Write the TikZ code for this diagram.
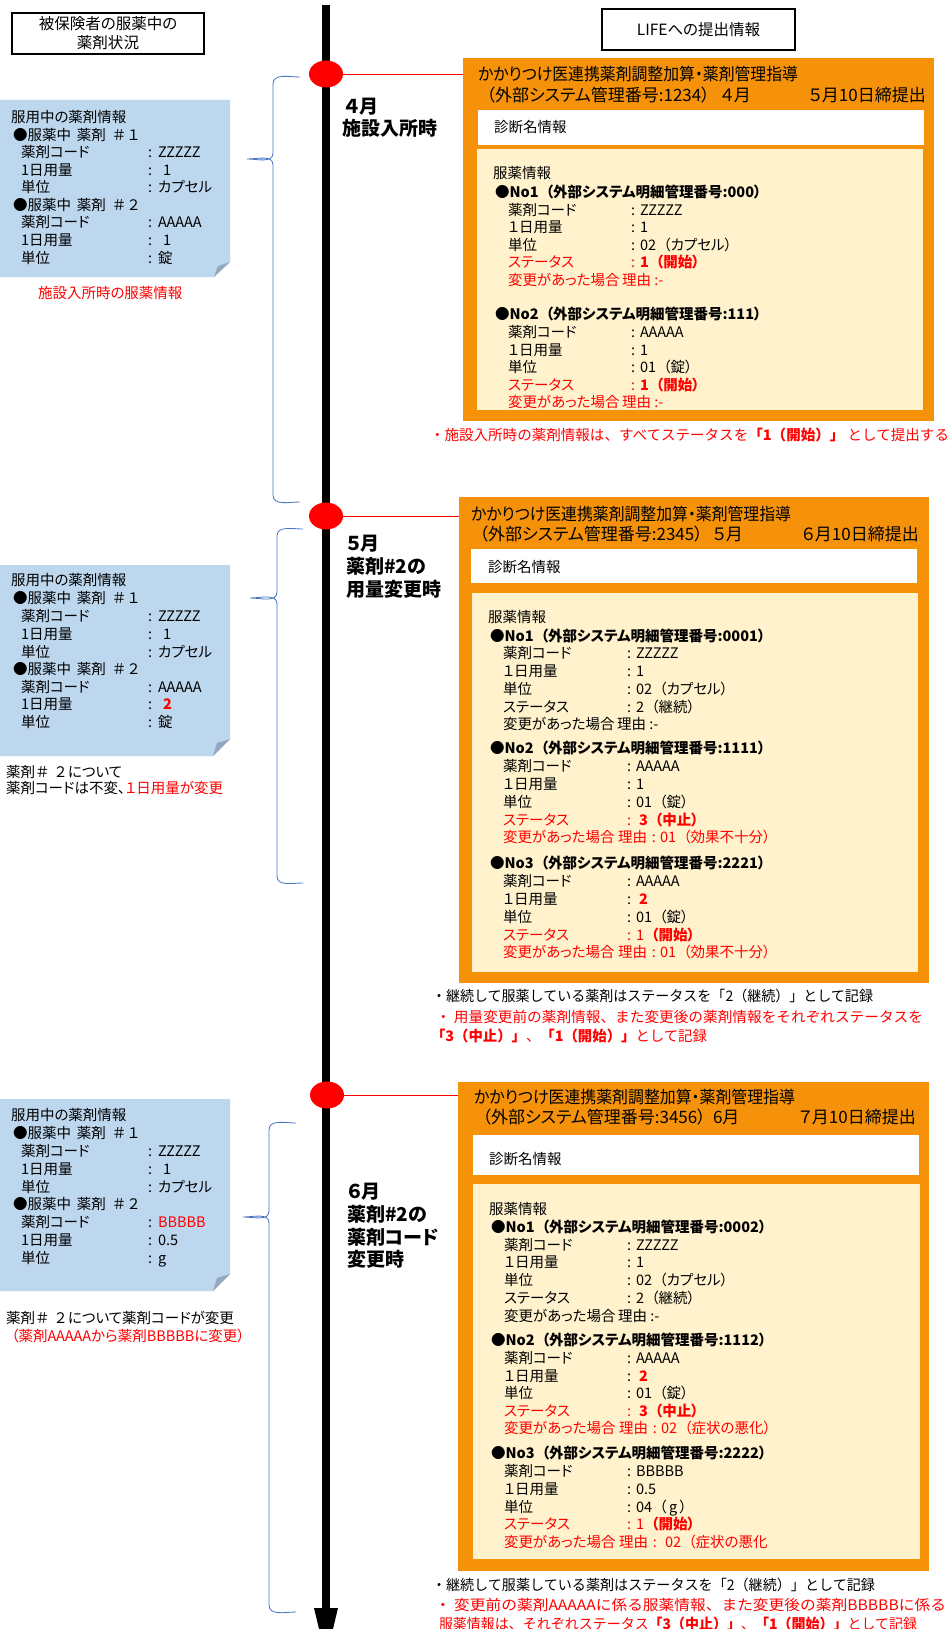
\documentclass[tikz,border=0pt]{standalone}
\usepackage{fontspec}
\setmainfont{Noto Sans CJK JP}[RawFeature={+palt}]
\newfontfamily\fwf{Noto Sans CJK JP}
\usetikzlibrary{shapes.geometric}
\definecolor{orng}{RGB}{245,146,10}
\definecolor{crm}{RGB}{255,242,204}
\definecolor{lblue}{RGB}{189,215,238}
\definecolor{foldc}{RGB}{150,168,192}
\definecolor{brc}{RGB}{68,114,196}
\newcommand\LP{\makebox[1em][r]{（}}
\newcommand\RP{\makebox[1em][l]{）}}
\newcommand\LB{\makebox[1em][r]{「}}
\newcommand\RB{\makebox[1em][l]{」}}
\newcommand\fitw[2]{\resizebox{#1pt}{\height}{#2}}
\tikzset{
 tx/.style={inner sep=0pt, outer sep=0pt, anchor=west},
 tbody/.style={tx, font=\fontsize{14.5}{17}\selectfont, text height=12pt, text depth=1pt},
 tbold/.style={tbody, font=\fontsize{14.5}{17}\selectfont\bfseries},
 tnote/.style={tbody, font=\fwf\fontsize{14.5}{17}\selectfont},
 thead/.style={tx, font=\fontsize{17}{20}\selectfont, text height=14pt, text depth=1.1pt},
 tlab/.style={tx, font=\fontsize{19}{22}\selectfont\bfseries, text height=15.8pt, text depth=1.4pt},
 ttl/.style={draw, line width=1.3pt, inner sep=0pt, outer sep=0pt, align=center, font=\fontsize{15.5}{19}\selectfont},
 bx/.style={inner sep=0pt, outer sep=0pt, anchor=north west},
 obx/.style={bx, fill=orng},
 wbx/.style={bx, fill=white},
 cbx/.style={bx, fill=crm},
 rtxt/.style={text=red},
 rdot/.style={ellipse, fill=red, minimum width=34pt, minimum height=27pt, inner sep=0pt, outer sep=0pt},
 brline/.style={draw=brc, line width=0.8pt},
 conn/.style={draw=red, line width=0.8pt},
}
% name, style, xlabel, xcolon, xvalue, y, label, value
\newcommand\kv[8]{%
 \node[tbody,#2] (#1l) at (#3,#6) {#7};
 \node[tbody,#2] (#1c) at (#4,#6) {:};
 \node[tbody,#2] (#1v) at (#5,#6) {#8};}
% name, style, x, xr, y, text after
\newcommand\reason[6]{%
 \node[tbody,#2] (#1l) at (#3,#5) {変更があった場合};
 \node[tbody,#2] (#1r) at (#4,#5) {#6};}
\newcommand\bul[1]{●服薬中\hspace{6pt}薬剤\hspace{6pt}{\fwf ＃#1}}
\begin{document}
\begin{tikzpicture}[x=1pt,y=-1pt]
\useasboundingbox (0,0) rectangle (952,1629);
\clip (0,0) rectangle (952,1629);
\fill[white] (0,0) rectangle (952,1629);

% ---------- titles
\node[ttl, minimum width=192pt, minimum height=41pt] (ttlL) at (108,33.5) {被保険者の服薬中の\\薬剤状況};
\node[ttl, minimum width=193pt, minimum height=41pt] (ttlR) at (698.5,29.5) {LIFEへの提出情報};

% ---------- timeline
\coordinate (tltop) at (326,5);
\coordinate (tlbot) at (326,1608);
\draw[line width=8pt] (tltop) -- (tlbot);
\fill (314,1608) -- (338,1608) -- (326,1658) -- cycle;

% ---------- blue notes
\fill[lblue] (0,100) -- (230,100) -- (230,262) -- (214,277) -- (0,277) -- cycle;
\fill[foldc] (214,277) -- (230,262) -- (218,266) -- cycle;
\fill[lblue] (0,565) -- (230,565) -- (230,739) -- (213,756) -- (0,756) -- cycle;
\fill[foldc] (213,756) -- (230,739) -- (217,743) -- cycle;
\fill[lblue] (0,1099) -- (230,1099) -- (230,1274) -- (213,1291) -- (0,1291) -- cycle;
\fill[foldc] (213,1291) -- (230,1274) -- (217,1278) -- cycle;

% ---------- braces
\draw[brline] (300,77) to[out=180,in=90] (273,84) -- (273,153) to[out=-90,in=0] (247,159) to[out=0,in=90] (273,165) -- (273,495) to[out=-90,in=180] (300,502);
\draw[brline] (303,529) to[out=180,in=90] (277,536) -- (277,592) to[out=-90,in=0] (250,598) to[out=0,in=90] (277,604) -- (277,876) to[out=-90,in=180] (303,883);
\draw[brline] (296,1123) to[out=180,in=90] (269,1130) -- (269,1211) to[out=-90,in=0] (243,1217) to[out=0,in=90] (269,1223) -- (269,1605) to[out=-90,in=180] (296,1612);

% =================== SECTION 1
\node[obx, minimum width=471pt, minimum height=363pt] (ob1) at (463,58) {};
\node[wbx, minimum width=446pt, minimum height=35pt] (wb1) at (478,110) {};
\node[cbx, minimum width=446pt, minimum height=261pt] (cb1) at (477,149) {};
\node[rdot] (d1) at (326,74) {};
\draw[conn] (d1.east) -- (d1.east -| ob1.west);

\node[tlab] (m1a) at (345,106) {４月};
\node[tlab] (m1b) at (342,128) {施設入所時};

\node[thead] (h1a) at (478,74) {\fitw{320}{かかりつけ医連携薬剤調整加算・薬剤管理指導}};
\node[thead] (h1b) at (478,95) {\LP 外部システム管理番号:1234\RP};
\node[thead] (h1c) at (721,95) {４月};
\node[thead] (h1d) at (809,95) {５月10日締提出};
\node[tbody] (w1) at (494,127) {診断名情報};
\node[tbody] (c1t) at (493,173) {服薬情報};
\node[tbold] (c1n1) at (495,192) {●No1\LP 外部システム明細管理番号:000\RP};
\kv{c1a}{}{508}{631}{640}{210}{薬剤コード}{ZZZZZ}
\kv{c1b}{}{508}{631}{640}{227.5}{１日用量}{1}
\kv{c1c}{}{508}{631}{640}{245}{単位}{02\LP カプセル\RP}
\kv{c1d}{rtxt}{508}{631}{640}{262.5}{ステータス}{\bfseries 1\LP 開始\RP}
\reason{c1e}{rtxt}{508}{622}{280}{理由 :-}
\node[tbold] (c1n2) at (495,314) {●No2\LP 外部システム明細管理番号:111\RP};
\kv{c1f}{}{508}{631}{640}{332}{薬剤コード}{AAAAA}
\kv{c1g}{}{508}{631}{640}{349.5}{１日用量}{1}
\kv{c1h}{}{508}{631}{640}{367}{単位}{01\LP 錠\RP}
\kv{c1i}{rtxt}{508}{631}{640}{384.5}{ステータス}{\bfseries 1\LP 開始\RP}
\reason{c1j}{rtxt}{508}{622}{402}{理由 :-}
\node[tnote,rtxt] (r1) at (430,435) {\fitw{519}{・施設入所時の薬剤情報は、すべてステータスを{\bfseries「1（開始）」}\ として提出する}};

\node[tbody] (n1t) at (11,117.5) {服用中の薬剤情報};
\node[tbody] (n1h1) at (13,135) {\bul{１}};
\kv{n1a}{}{21}{148}{158}{152.5}{薬剤コード}{ZZZZZ}
\kv{n1b}{}{21}{148}{163}{170}{1日用量}{1}
\kv{n1c}{}{21}{148}{158}{187.5}{単位}{カプセル}
\node[tbody] (n1h2) at (13,205) {\bul{２}};
\kv{n1d}{}{21}{148}{158}{222.5}{薬剤コード}{AAAAA}
\kv{n1e}{}{21}{148}{163}{240}{1日用量}{1}
\kv{n1f}{}{21}{148}{158}{257.5}{単位}{錠}
\node[tbody,rtxt] (n1cap) at (38,293) {施設入所時の服薬情報};

% =================== SECTION 2
\node[obx, minimum width=470pt, minimum height=486pt] (ob2) at (459,497) {};
\node[wbx, minimum width=446pt, minimum height=34pt] (wb2) at (471,549) {};
\node[cbx, minimum width=446pt, minimum height=379pt] (cb2) at (472,593) {};
\node[rdot] (d2) at (326,516) {};
\draw[conn] (d2.east) -- (d2.east -| ob2.west);

\node[tlab] (m2a) at (346,543) {５月};
\node[tlab] (m2b) at (346,566) {薬剤\#2の};
\node[tlab] (m2c) at (346,589) {用量変更時};

\node[thead] (h2a) at (471,514) {\fitw{320}{かかりつけ医連携薬剤調整加算・薬剤管理指導}};
\node[thead] (h2b) at (471,534) {\LP 外部システム管理番号:2345\RP};
\node[thead] (h2c) at (713,534) {５月};
\node[thead] (h2d) at (802,534) {６月10日締提出};
\node[tbody] (w2) at (488,567) {診断名情報};
\node[tbody] (c2t) at (488,617) {服薬情報};
\node[tbold] (c2n1) at (490,636) {●No1\LP 外部システム明細管理番号:0001\RP};
\kv{c2a}{}{503}{627}{636}{653}{薬剤コード}{ZZZZZ}
\kv{c2b}{}{503}{627}{636}{671}{１日用量}{1}
\kv{c2c}{}{503}{627}{636}{689}{単位}{02\LP カプセル\RP}
\kv{c2d}{}{503}{627}{636}{707}{ステータス}{2\LP 継続\RP}
\reason{c2e}{}{503}{617}{724}{理由 :-}
\node[tbold] (c2n2) at (490,748) {●No2\LP 外部システム明細管理番号:1111\RP};
\kv{c2f}{}{503}{627}{636}{766}{薬剤コード}{AAAAA}
\kv{c2g}{}{503}{627}{636}{784}{１日用量}{1}
\kv{c2h}{}{503}{627}{636}{802}{単位}{01\LP 錠\RP}
\kv{c2i}{rtxt}{503}{627}{639}{820}{ステータス}{\bfseries 3\LP 中止\RP}
\reason{c2j}{rtxt}{503}{618}{837}{理由\hspace{5pt}:\hspace{4pt}01\LP 効果不十分\RP}
\node[tbold] (c2n3) at (490,863) {●No3\LP 外部システム明細管理番号:2221\RP};
\kv{c2k}{}{503}{627}{636}{881}{薬剤コード}{AAAAA}
\kv{c2l}{}{503}{627}{639}{899}{１日用量}{\bfseries\textcolor{red}{2}}
\kv{c2m}{}{503}{627}{636}{917}{単位}{01\LP 錠\RP}
\kv{c2n}{rtxt}{503}{627}{636}{935}{ステータス}{1{\bfseries\LP 開始\RP}}
\reason{c2o}{rtxt}{503}{618}{952}{理由\hspace{5pt}:\hspace{4pt}01\LP 効果不十分\RP}
\node[tnote] (r2a) at (432,996) {\fitw{441}{・継続して服薬している薬剤はステータスを「2（継続）」として記録}};
\node[tnote,rtxt] (r2b) at (436,1017) {\fitw{487}{・ 用量変更前の薬剤情報、また変更後の薬剤情報をそれぞれステータスを}};
\node[tnote,rtxt] (r2c) at (431,1036) {\fitw{276}{{\bfseries「3（中止）」}、{\bfseries「1（開始）」}として記録}};

\node[tbody] (n2t) at (11,580) {服用中の薬剤情報};
\node[tbody] (n2h1) at (13,598) {\bul{１}};
\kv{n2a}{}{21}{148}{158}{616}{薬剤コード}{ZZZZZ}
\kv{n2b}{}{21}{148}{163}{634}{1日用量}{1}
\kv{n2c}{}{21}{148}{158}{652}{単位}{カプセル}
\node[tbody] (n2h2) at (13,669) {\bul{２}};
\kv{n2d}{}{21}{148}{158}{687}{薬剤コード}{AAAAA}
\kv{n2e}{}{21}{148}{163}{704}{1日用量}{\textcolor{red}{\bfseries 2}}
\kv{n2f}{}{21}{148}{158}{722}{単位}{錠}
\node[tbody] (n2c1) at (6,772) {薬剤{\fwf ＃}\hspace{4pt}{\fwf ２}について};
\node[tbody] (n2c2) at (6,788) {薬剤コードは不変、\textcolor{red}{１日用量が変更}};

% =================== SECTION 3
\node[obx, minimum width=471pt, minimum height=489pt] (ob3) at (458,1082) {};
\node[wbx, minimum width=446pt, minimum height=40pt] (wb3) at (473,1135) {};
\node[cbx, minimum width=447pt, minimum height=375pt] (cb3) at (473,1184) {};
\node[rdot] (d3) at (327,1095) {};
\draw[conn] (d3.east) -- (d3.east -| ob3.west);

\node[tlab] (m3a) at (347,1191) {６月};
\node[tlab] (m3b) at (347,1214) {薬剤\#2の};
\node[tlab] (m3c) at (347,1237) {薬剤コード};
\node[tlab] (m3d) at (347,1259) {変更時};

\node[thead] (h3a) at (474,1097) {\fitw{321}{かかりつけ医連携薬剤調整加算・薬剤管理指導}};
\node[thead] (h3b) at (474,1117) {\LP 外部システム管理番号:3456\RP};
\node[thead] (h3c) at (713,1117) {6月};
\node[thead] (h3d) at (799,1117) {７月10日締提出};
\node[tbody] (w3) at (489,1159) {診断名情報};
\node[tbody] (c3t) at (489,1209) {服薬情報};
\node[tbold] (c3n1) at (491,1227) {●No1\LP 外部システム明細管理番号:0002\RP};
\kv{c3a}{}{504}{627}{636}{1245}{薬剤コード}{ZZZZZ}
\kv{c3b}{}{504}{627}{636}{1262}{１日用量}{1}
\kv{c3c}{}{504}{627}{636}{1280}{単位}{02\LP カプセル\RP}
\kv{c3d}{}{504}{627}{636}{1298}{ステータス}{2\LP 継続\RP}
\reason{c3e}{}{504}{618}{1316}{理由 :-}
\node[tbold] (c3n2) at (491,1340) {●No2\LP 外部システム明細管理番号:1112\RP};
\kv{c3f}{}{504}{627}{636}{1358}{薬剤コード}{AAAAA}
\kv{c3g}{}{504}{627}{639}{1376}{１日用量}{\bfseries\textcolor{red}{2}}
\kv{c3h}{}{504}{627}{636}{1393}{単位}{01\LP 錠\RP}
\kv{c3i}{rtxt}{504}{627}{639}{1411}{ステータス}{\bfseries 3\LP 中止\RP}
\reason{c3j}{rtxt}{504}{619}{1428}{理由\hspace{5pt}:\hspace{4pt}02\LP 症状の悪化\RP}
\node[tbold] (c3n3) at (491,1453) {●No3\LP 外部システム明細管理番号:2222\RP};
\kv{c3k}{}{504}{627}{636}{1471}{薬剤コード}{BBBBB}
\kv{c3l}{}{504}{627}{636}{1489}{１日用量}{0.5}
\kv{c3m}{}{504}{627}{636}{1507}{単位}{04\LP\,g\,\RP}
\kv{c3n}{rtxt}{504}{627}{636}{1524}{ステータス}{1{\bfseries\LP 開始\RP}}
\reason{c3o}{rtxt}{504}{619}{1542}{理由\hspace{5pt}:\hspace{8pt}02\LP 症状の悪化}
\node[tnote] (r3a) at (432,1585) {\fitw{443}{・継続して服薬している薬剤はステータスを「2（継続）」として記録}};
\node[tnote,rtxt] (r3b) at (435,1605) {\fitw{511}{・ 変更前の薬剤AAAAAに係る服薬情報、また変更後の薬剤BBBBBに係る}};
\node[tnote,rtxt] (r3c) at (439,1624) {\fitw{478}{服薬情報は、それぞれステータス{\bfseries「3（中止）」}、{\bfseries「1（開始）」}として記録}};

\node[tbody] (n3t) at (11,1115) {服用中の薬剤情報};
\node[tbody] (n3h1) at (13,1133) {\bul{１}};
\kv{n3a}{}{21}{148}{158}{1151}{薬剤コード}{ZZZZZ}
\kv{n3b}{}{21}{148}{163}{1169}{1日用量}{1}
\kv{n3c}{}{21}{148}{158}{1187}{単位}{カプセル}
\node[tbody] (n3h2) at (13,1204) {\bul{２}};
\kv{n3d}{}{21}{148}{158}{1222}{薬剤コード}{\textcolor{red}{BBBBB}}
\kv{n3e}{}{21}{148}{158}{1240}{1日用量}{0.5}
\kv{n3f}{}{21}{148}{158}{1258}{単位}{g}
\node[tbody] (n3c1) at (6,1318) {薬剤{\fwf ＃}\hspace{4pt}{\fwf ２}について薬剤コードが変更};
\node[tbody,rtxt] (n3c2) at (4,1336) {\LP 薬剤AAAAAから薬剤BBBBBに変更\RP};
\end{tikzpicture}
\end{document}
